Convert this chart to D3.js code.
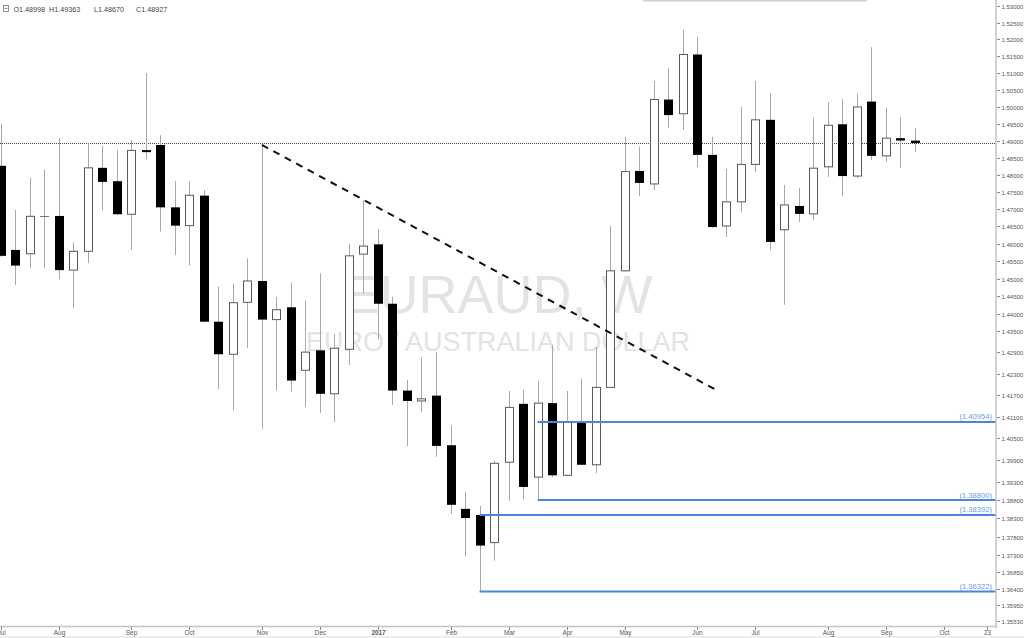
<!DOCTYPE html>
<html><head><meta charset="utf-8">
<script src="https://cdn.jsdelivr.net/npm/d3@7/dist/d3.min.js"></script>
<style>html,body{margin:0;padding:0;background:#fff;}svg{display:block;font-family:"Liberation Sans",Arial,sans-serif;}</style>
</head><body>
<svg id="c" width="1024" height="638"></svg>
<script>
// ---- data ----
const dates = ["2016-07-04","2016-07-11","2016-07-18","2016-07-25","2016-08-01","2016-08-08","2016-08-15","2016-08-22","2016-08-29",
"2016-09-05","2016-09-12","2016-09-19","2016-09-26","2016-10-03","2016-10-10","2016-10-17","2016-10-24","2016-10-31",
"2016-11-07","2016-11-14","2016-11-21","2016-11-28","2016-12-05","2016-12-12","2016-12-19","2016-12-26",
"2017-01-02","2017-01-09","2017-01-16","2017-01-23","2017-01-30","2017-02-06","2017-02-13","2017-02-20","2017-02-27",
"2017-03-06","2017-03-13","2017-03-20","2017-03-27","2017-04-03","2017-04-10","2017-04-17","2017-04-24",
"2017-05-01","2017-05-08","2017-05-15","2017-05-22","2017-05-29","2017-06-05","2017-06-12","2017-06-19","2017-06-26",
"2017-07-03","2017-07-10","2017-07-17","2017-07-24","2017-07-31","2017-08-07","2017-08-14","2017-08-21","2017-08-28",
"2017-09-04","2017-09-11","2017-09-18"];
const open  = [1.4826,1.4582,1.4571,1.4679,1.4680,1.4524,1.4578,1.4820,1.4781,1.4685,1.4872,1.4887,1.4705,1.4652,1.4739,1.4377,1.4285,1.4432,
1.4493,1.4383,1.4418,1.4240,1.4296,1.4174,1.4299,1.4570,1.4598,1.4428,1.4183,1.4154,1.4169,1.4031,1.3856,1.38392,1.3764,
1.3984,1.4146,1.3943,1.4148,1.3948,1.4095,1.3977,1.4192,1.4522,1.4811,1.4773,1.5021,1.4979,1.5155,1.4858,1.4651,1.4721,
1.4830,1.4961,1.4640,1.4709,1.4686,1.4823,1.4948,1.4796,1.5015,1.4855,1.4907,1.48998];
const high  = [1.4949,1.4697,1.4791,1.4814,1.4907,1.4604,1.4892,1.4884,1.4872,1.4902,1.5100,1.4916,1.4782,1.4780,1.4755,1.4477,1.4486,1.4558,
1.4887,1.4447,1.4488,1.4437,1.4515,1.4342,1.4599,1.4726,1.4642,1.4448,1.4213,1.4276,1.4292,1.4086,1.3903,1.3864,1.3988,
1.4182,1.4185,1.4210,1.4311,1.4182,1.4217,1.4306,1.4651,1.4911,1.4882,1.5076,1.5114,1.5229,1.5208,1.4911,1.4817,1.5000,
1.5076,1.5040,1.4770,1.4761,1.4967,1.5013,1.5022,1.5038,1.5177,1.4998,1.4969,1.49363];
const low   = [1.4562,1.4482,1.4529,1.4529,1.4498,1.4415,1.4544,1.4697,1.4683,1.4582,1.4845,1.4635,1.4567,1.4537,1.4375,1.4187,1.4129,1.4302,
1.4075,1.4183,1.4180,1.4138,1.4121,1.4095,1.4255,1.4458,1.4327,1.4143,1.4029,1.4123,1.3999,1.3842,1.3726,1.36322,1.3715,
1.3878,1.3882,1.3880,1.3943,1.3947,1.3976,1.3954,1.4190,1.4520,1.4738,1.4755,1.4936,1.4931,1.4822,1.4645,1.4619,1.4690,
1.4808,1.4582,1.4425,1.4663,1.4668,1.4793,1.4738,1.4790,1.4843,1.4838,1.4820,1.48670];
const close = [1.4565,1.4537,1.4679,1.4679,1.4524,1.4578,1.4820,1.4779,1.4685,1.4871,1.4866,1.4705,1.4652,1.4740,1.4377,1.4285,1.4431,1.4493,
1.4383,1.4411,1.4211,1.4291,1.4174,1.4302,1.4565,1.4593,1.4428,1.4183,1.4154,1.4160,1.4029,1.3867,1.3831,1.3756,1.3981,
1.4136,1.3916,1.4148,1.3948,1.40954,1.3977,1.4192,1.4522,1.4809,1.4776,1.5021,1.4975,1.5155,1.4858,1.4648,1.4721,1.4830,
1.4961,1.4605,1.4712,1.4686,1.4819,1.4945,1.4796,1.4999,1.4855,1.4907,1.4900,1.48927];

const priceTicks = [1.53,1.525,1.52,1.515,1.51,1.505,1.50,1.495,1.49,1.485,1.48,1.475,1.47,1.465,1.46,1.455,1.45,1.445,1.44,1.435,
1.429,1.423,1.417,1.411,1.405,1.399,1.393,1.388,1.383,1.378,1.373,1.3685,1.364,1.3595,1.3553];
const timeTickDates  = ["2016-07-04","2016-08-01","2016-09-05","2016-10-03","2016-11-07","2016-12-05","2017-01-02","2017-02-06","2017-03-06",
"2017-04-03","2017-05-01","2017-06-05","2017-07-03","2017-08-07","2017-09-04","2017-10-02","2017-10-23"];
const timeTickLabels = ["Jul","Aug","Sep","Oct","Nov","Dec","2017","Feb","Mar","Apr","May","Jun","Jul","Aug","Sep","Oct","23"];

const levelPrices = [1.40954,1.38800,1.38392,1.36322];
const levelStarts = ["2017-03-20","2017-03-20","2017-02-20","2017-02-20"];
const trendDates  = ["2016-11-07","2017-06-15"];
const trendPrices = [1.4887,1.4182];
const lastClose = 1.48927;
const symbol = "EURAUD, W";
const description = "EURO / AUSTRALIAN DOLLAR";
const ohlcLabels = ["O","H","L","C"];

// ---- layout ----
const W = 1024, H = 638, plotR = 996, plotB = 626;
const parse = d3.utcParse("%Y-%m-%d");
const bars = dates.map((d,i)=>({date:parse(d),o:open[i],h:high[i],l:low[i],c:close[i]}));

const x = d3.scaleUtc().domain([parse("2016-07-04"), parse("2017-10-23")]).range([0.7, 987.4]);
const y = d3.scaleLog().domain([1.53, 1.3553]).range([6.23, 620.95]);

const svg = d3.select("#c");
svg.append("rect").attr("width",W).attr("height",H).attr("fill","#fff");
svg.append("defs").append("clipPath").attr("id","plot").append("rect").attr("x",0).attr("y",0).attr("width",plotR).attr("height",plotB);

const plot = svg.append("g").attr("clip-path","url(#plot)");

// watermark
plot.append("text").attr("x",498).attr("y",313).attr("text-anchor","middle")
  .attr("font-size",54).attr("fill","#e3e3e3").text(symbol);
plot.append("text").attr("x",498).attr("y",351).attr("text-anchor","middle")
  .attr("font-size",27).attr("fill","#e3e3e3").text(description);

// last price dotted line
plot.append("line").attr("x1",0).attr("x2",plotR)
  .attr("y1",Math.round(y(lastClose))+0.5).attr("y2",Math.round(y(lastClose))+0.5)
  .attr("stroke","#444").attr("stroke-width",1).attr("stroke-dasharray","1,1");

// candles
const cg = plot.append("g");
bars.forEach(b=>{
  const cx = Math.round(x(b.date));
  cg.append("line").attr("x1",cx+0.5).attr("x2",cx+0.5).attr("y1",y(b.h)).attr("y2",y(b.l))
    .attr("stroke","#a8a8a8").attr("stroke-width",1);
});
bars.forEach(b=>{
  const cx = Math.round(x(b.date));
  const top = y(Math.max(b.o,b.c)), bot = y(Math.min(b.o,b.c));
  if (b.c < b.o) {
    const h = Math.max(2, bot-top);
    cg.append("rect").attr("x",cx-4).attr("y",top).attr("width",9).attr("height",h).attr("fill","#000");
  } else if (Math.abs(b.c-b.o) < 0.00005) {
    cg.append("line").attr("x1",cx-4).attr("x2",cx+5).attr("y1",Math.round(top)+0.5).attr("y2",Math.round(top)+0.5)
      .attr("stroke","#777").attr("stroke-width",1);
  } else {
    const h = Math.max(1, bot-top);
    cg.append("rect").attr("x",cx-3.5).attr("y",top).attr("width",8).attr("height",h)
      .attr("fill","#fff").attr("stroke","#5a5a5a").attr("stroke-width",1);
  }
});

// trend line
plot.append("line").attr("x1",x(parse(trendDates[0]))).attr("y1",y(trendPrices[0]))
  .attr("x2",x(parse(trendDates[1]))).attr("y2",y(trendPrices[1]))
  .attr("stroke","#111").attr("stroke-width",2).attr("stroke-dasharray","7,6");

// horizontal levels
levelPrices.forEach((p,i)=>{
  const yy = y(p);
  plot.append("line").attr("x1",x(parse(levelStarts[i]))).attr("x2",plotR).attr("y1",yy).attr("y2",yy)
    .attr("stroke","#4a86e0").attr("stroke-width",2);
  svg.append("text").attr("x",992).attr("y",yy-2.5).attr("text-anchor","end")
    .attr("font-size",7.6).attr("fill","#6a9be6").text("(" + p.toFixed(5) + ")");
});

// right axis
svg.append("line").attr("x1",996).attr("x2",996).attr("y1",0).attr("y2",plotB+2).attr("stroke","#c4c4c4").attr("stroke-width",1.5);
const ra = svg.append("g");
priceTicks.forEach(t=>{
  const yy = Math.round(y(t))+0.5;
  ra.append("line").attr("x1",997).attr("x2",1000).attr("y1",yy).attr("y2",yy).attr("stroke","#888");
  ra.append("text").attr("x",1001.5).attr("y",yy).attr("dy","0.35em").attr("font-size",6)
    .attr("fill","#555").text(t.toFixed(5));
});

// bottom axis
svg.append("line").attr("x1",0).attr("x2",997).attr("y1",plotB+0.5).attr("y2",plotB+0.5).attr("stroke","#c4c4c4").attr("stroke-width",1.5);
svg.append("rect").attr("x",0).attr("y",636).attr("width",W).attr("height",2).attr("fill","#eeeeee");
timeTickDates.forEach((d,i)=>{
  const xx = Math.round(x(parse(d)))+0.5;
  svg.append("line").attr("x1",xx).attr("x2",xx).attr("y1",plotB+1).attr("y2",plotB+4).attr("stroke","#888");
  svg.append("text").attr("x",xx).attr("y",633).attr("dy","0.35em").attr("text-anchor","middle")
    .attr("font-size",6.4).attr("font-weight",timeTickLabels[i]==="2017"?"bold":"normal").attr("fill","#555").text(timeTickLabels[i]);
});

// top scroll indicator
svg.append("rect").attr("x",643).attr("y",0).attr("width",224).attr("height",1.5).attr("fill","#cfcfcf");

// header
const hdr = svg.append("g");
hdr.append("rect").attr("x",3.5).attr("y",5.5).attr("width",5).attr("height",6).attr("fill","none").attr("stroke","#777").attr("stroke-width",0.8);
hdr.append("line").attr("x1",4.5).attr("x2",7.5).attr("y1",8.5).attr("y2",8.5).attr("stroke","#777").attr("stroke-width",0.8);
const hv = [open[open.length-1], high[high.length-1], low[low.length-1], close[close.length-1]];
const hx = [13.5, 49, 94, 136];
hv.forEach((v,i)=>{
  hdr.append("text").attr("x",hx[i]).attr("y",9).attr("dy","0.35em").attr("font-size",7.2).attr("fill","#444")
    .text(ohlcLabels[i] + v.toFixed(5));
});
</script>
</body></html>
